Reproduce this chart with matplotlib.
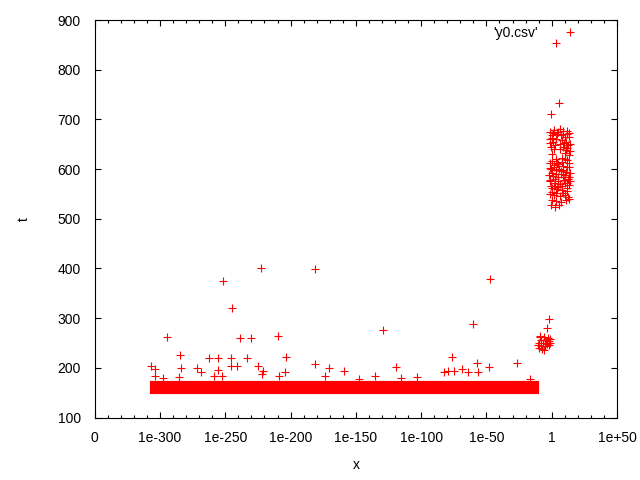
import numpy as np
import matplotlib
matplotlib.use('Agg')
from matplotlib import pyplot
from matplotlib.ticker import MultipleLocator

## data (x given as log10 exponent, 0 label sits at 1e-350)
# dense band of points at t ~150-170 over 1e-307 .. 1e-11
band_x = [-306.5, -11.5]
band_lo = [151, 151]
band_hi = [170, 170]

# scattered points above the band
out_x = [-294.4, -251.7, -222.9, -181.1, -244.6, -238.7, -230.1, -209.4, -284.7, -262.2,
         -255.3, -245.6, -233.1, -203.5, -306.7, -303.8, -283.7, -271.4, -268.8, -255.3,
         -245.8, -240.8, -224.7, -220.9, -221.9, -204.0, -181.1, -170.8, -303.6, -297.5,
         -285.2, -258.6, -252.3, -208.6, -173.4, -158.9, -147.4, -135.1, -129.2, -119.0,
         -115.7, -102.9, -76.1, -82.3, -79.7, -74.6, -68.5, -63.9, -57.0, -56.2,
         -60.1, -47.5, -47.8, -26.4, -16.6, -1.9, -3.4, -9.0, 3.5, 5.8, -0.3]
out_t = [261.4, 374.1, 400.3, 398.3, 319.8, 259.4, 259.4, 264.1, 225.8, 219.2,
         219.2, 219.2, 219.2, 221.2, 204.3, 197.0, 199.0, 199.0, 191.6, 196.2,
         204.3, 204.3, 203.7, 193.6, 187.6, 191.0, 207.1, 199.0, 183.0, 179.5,
         181.5, 183.0, 183.0, 183.6, 183.6, 193.0, 178.1, 183.6, 275.5, 201.1,
         178.9, 181.5, 221.2, 191.0, 193.0, 193.6, 197.6, 191.0, 209.1, 191.0,
         287.6, 378.2, 201.1, 209.1, 178.1, 297.7, 279.6, 264.1, 853.1, 732.4, 710.2]

# small clump just below 1
clump_x = [-9, -6, -3, -1.5, -8, -5, -2, -9.5, -7, -4, -1.3, -10.5, -8, -5.5, -10, -7.5, -6, -3.5, -2]
clump_t = [262, 263, 261, 258, 256, 255, 253, 250, 249, 250, 250, 246, 244, 243, 240, 238, 236, 247, 246]

# big clump at 1 .. 1e+14
big_x = [-1, 2, 6, 9, 12, 13.5, 0, 4, 7, 10, 13, -1.5, 1, 8, 11, 13.8, -0.5, 2.5, 9, 12,
         6, 10, 13, 0, 3, 8, 12, -1.5, 1.5, 5, 9, 13, -0.5, 3, 7, 11, 14, -1.8, 1, 5,
         9, 12.5, -1, 2.5, 6.5, 10.5, 13.5, 0, 4, 8, 12, -1.5, 2, 6, 10, 13, 0, 3.5, 7, 11,
         -0.5, 2.5, 5.5,
         1, 4.5, 8.5, 11.5, 0.5, 3.5, 9.5, 12.5, -1, 2, 6.5, 11, 14, 0.5, 4, 7.5, 10.5, 13,
         -1.2, 2, 5.5, 8.5, 11.5, 0.5, 3.5, 7, 10, 13.5, -1, 2.5, 5, 9.5, 12, -0.8, 1.5, 4.5,
         8, 11.5, 14, 0, 3, 9, 12.5]
big_t = [675, 678, 680, 676, 677, 672, 668, 670, 668, 665, 664, 660, 655, 658, 655, 650, 645, 648, 645, 642,
         640, 632, 628, 630, 620, 622, 618, 612, 608, 610, 607, 605, 600, 598, 596, 595, 592, 588, 586, 585,
         584, 580, 575, 572, 570, 571, 568, 562, 560, 558, 555, 550, 548, 546, 548, 540, 538, 535, 533, 537,
         527, 524, 528,
         672, 674, 671, 670, 662, 660, 652, 648, 652, 640, 650, 638, 636, 616, 612, 614, 620, 612,
         602, 604, 600, 598, 604, 592, 590, 590, 588, 584, 578, 580, 576, 578, 572, 566, 566, 564,
         566, 562, 575, 554, 552, 552, 544]

xtick_pos = [-350, -300, -250, -200, -150, -100, -50, 0, 50]
xtick_lab = ['0', '1e-300', '1e-250', '1e-200', '1e-150', '1e-100', '1e-50', '1', '1e+50']

pyplot.rcParams['font.family'] = ['Liberation Sans', 'DejaVu Sans']
pyplot.rcParams['font.size'] = 10

fig = pyplot.figure(figsize=(6.4, 4.8), dpi=100)
ax = fig.add_axes([94.7 / 640, 1 - 417.5 / 480, 522.3 / 640, 397.5 / 480])

ms = 5.3
mew = 0.8
ax.fill_between(band_x, band_lo, band_hi, facecolor='red', edgecolor='red', linewidth=3, joinstyle='miter')
ax.plot(out_x, out_t, '+', color='red', ms=ms, mew=mew)
ax.plot(clump_x, clump_t, '+', color='red', ms=ms, mew=mew)
ax.plot(big_x, big_t, '+', color='red', ms=ms, mew=mew, label="'y0.csv'")

ax.set_xlim(-350, 50)
ax.set_ylim(100, 900)
ax.set_xticks(xtick_pos)
ax.set_xticklabels(xtick_lab)
ax.xaxis.set_minor_locator(MultipleLocator(10))
ax.set_yticks(range(100, 901, 100))
ax.tick_params(which='both', direction='in', top=True, right=True, width=0.8)
ax.tick_params(which='major', length=4.5)
ax.tick_params(which='minor', length=2.2)
ax.tick_params(axis='x', pad=10)
ax.tick_params(axis='y', pad=10)
for s in ax.spines.values():
    s.set_linewidth(0.8)

ax.set_xlabel('x', labelpad=9)
ax.set_ylabel('t', rotation=90, labelpad=19)

ax.legend(loc='upper right', markerfirst=False, frameon=False, handlelength=2, handletextpad=1.3,
          borderaxespad=0, borderpad=0.4, bbox_to_anchor=(589.5 / 640, 1 - 20 / 480),
          bbox_transform=fig.transFigure, fontsize=10)

fig.savefig('out.png', dpi=100)
